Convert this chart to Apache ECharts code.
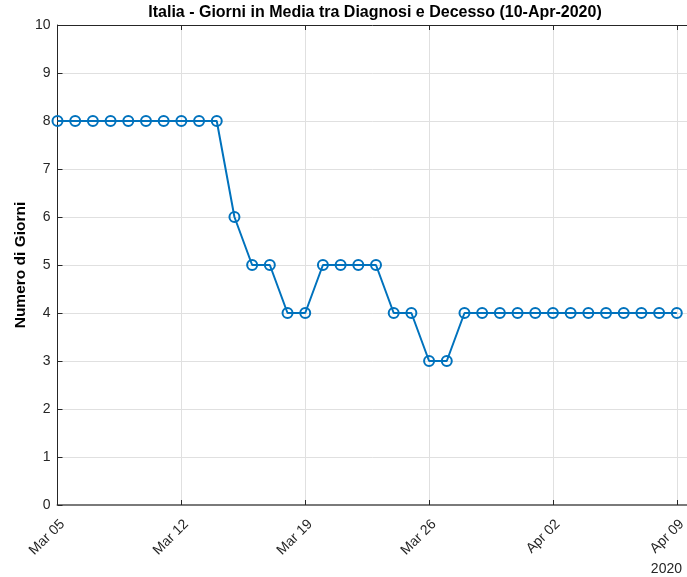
<!DOCTYPE html>
<html>
<head>
<meta charset="utf-8">
<script src="https://cdn.jsdelivr.net/npm/echarts@6/dist/echarts.min.js"></script>
<style>
html,body{margin:0;padding:0;background:#fff;}
#chart{width:687px;height:577px;}
</style>
</head>
<body>
<div id="chart"></div>
<script>
// Dates (one point per day)
const dates = ['Mar 05','Mar 06','Mar 07','Mar 08','Mar 09','Mar 10','Mar 11','Mar 12','Mar 13','Mar 14',
  'Mar 15','Mar 16','Mar 17','Mar 18','Mar 19','Mar 20','Mar 21','Mar 22','Mar 23','Mar 24',
  'Mar 25','Mar 26','Mar 27','Mar 28','Mar 29','Mar 30','Mar 31','Apr 01','Apr 02','Apr 03',
  'Apr 04','Apr 05','Apr 06','Apr 07','Apr 08','Apr 09'];
// Average days between diagnosis and death
const giorni = [8,8,8,8,8,8,8,8,8,8,
  6,5,5,4,4,5,5,5,5,4,
  4,3,3,4,4,4,4,4,4,4,
  4,4,4,4,4,4];
const xTickLabels = ['Mar 05','Mar 12','Mar 19','Mar 26','Apr 02','Apr 09'];
const yTickLabels = ['0','1','2','3','4','5','6','7','8','9','10'];

const FONT = 'Liberation Sans, Arial, Helvetica, sans-serif';
const chart = echarts.init(document.getElementById('chart'));
const xMax = 36; // axis runs to Apr 10, clipped by the window edge
const seriesData = giorni.map((v, i) => [i, v]);

chart.setOption({
  animation: false,
  backgroundColor: '#fff',
  grid: { left: 57.5, width: 637, top: 25, height: 480, containLabel: false, outerBoundsMode: 'none' },
  graphic: [
    { type: 'text', x: 375, y: 13,
      style: { text: 'Italia - Giorni in Media tra Diagnosi e Decesso (10-Apr-2020)',
        font: 'bold 16px ' + FONT, fill: '#000', align: 'center', verticalAlign: 'middle' } },
    { type: 'text', x: 682, y: 569,
      style: { text: '2020', font: '14px ' + FONT, fill: '#262626', align: 'right', verticalAlign: 'middle' } }
  ],
  xAxis: [
    {
      type: 'value', min: 0, max: xMax, interval: 7, position: 'bottom',
      axisLine: { show: true, lineStyle: { color: '#7a7a7a', width: 2 } },
      axisTick: { show: true, inside: true, length: 5, lineStyle: { color: '#262626' } },
      axisLabel: {
        rotate: 45, margin: 12, color: '#262626', fontSize: 14, fontFamily: FONT,
        align: 'right', verticalAlign: 'top',
        showMaxLabel: false,
        formatter: v => (Number.isInteger(v) && v % 7 === 0) ? xTickLabels[v / 7] : ''
      },
      splitLine: { show: true, showMaxLine: false, lineStyle: { color: '#e0e0e0', width: 1 } }
    },
    {
      type: 'value', min: 0, max: xMax, interval: 7, position: 'top',
      axisLine: { show: true, lineStyle: { color: '#262626', width: 1 } },
      axisTick: { show: true, inside: true, length: 5, lineStyle: { color: '#262626' } },
      axisLabel: { show: false },
      splitLine: { show: false }
    }
  ],
  yAxis: {
    type: 'value', min: 0, max: 10, interval: 1,
    name: 'Numero di Giorni', nameLocation: 'middle', nameGap: 29, nameMoveOverlap: false,
    nameTextStyle: { fontSize: 15.5, fontWeight: 'bold', color: '#000', fontFamily: FONT },
    axisLine: { show: true, lineStyle: { color: '#262626', width: 1 } },
    axisTick: { show: true, inside: true, length: 5, lineStyle: { color: '#262626' } },
    axisLabel: { color: '#262626', fontSize: 14, fontFamily: FONT, margin: 7,
      formatter: v => yTickLabels[v] },
    splitLine: { show: true, lineStyle: { color: '#e0e0e0', width: 1 } }
  },
  series: [{
    type: 'line',
    xAxisIndex: 0,
    data: seriesData,
    symbol: 'circle',
    symbolSize: 10,
    showAllSymbol: true,
    lineStyle: { color: '#0072BD', width: 2 },
    itemStyle: { color: 'rgba(255,255,255,0)', borderColor: '#0072BD', borderWidth: 2 },
    emphasis: { disabled: true }
  }]
});
</script>
</body>
</html>
